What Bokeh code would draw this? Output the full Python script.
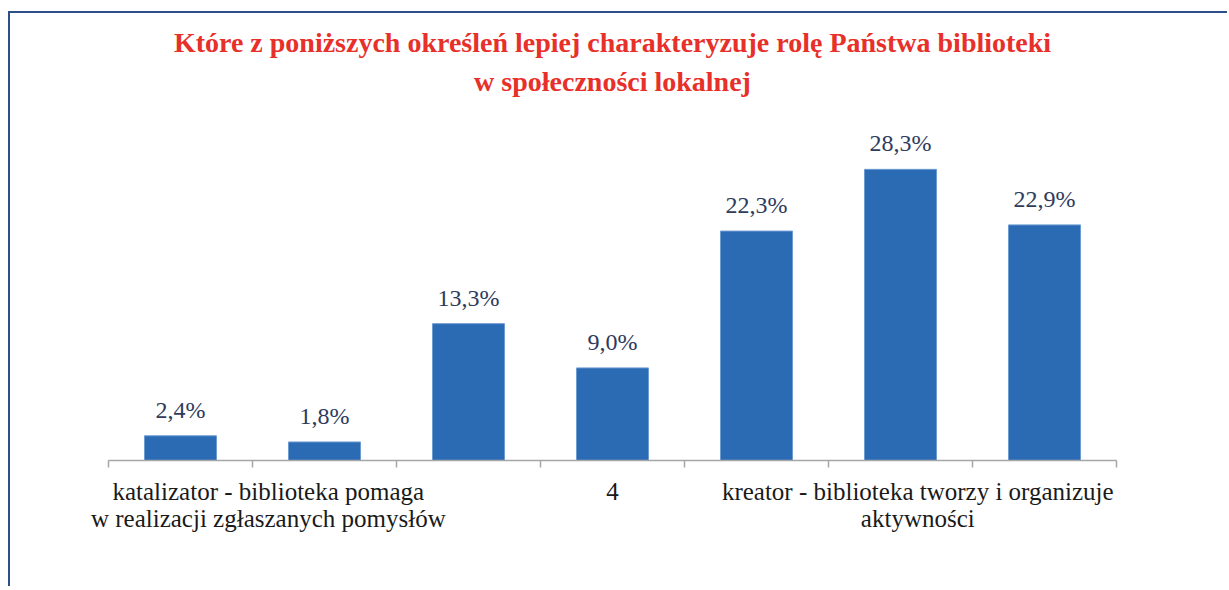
from bokeh.plotting import figure
from bokeh.models import Range1d, FixedTicker, Title, ColumnDataSource
from bokeh.embed import file_html
from bokeh.resources import INLINE
from bokeh.core.properties import value

# ---- data ----
categories = ["1", "2", "3", "4", "5", "6", "7"]
values = [2.4, 1.8, 13.3, 9.0, 22.3, 28.3, 22.9]
tick_labels = [
    "katalizator - biblioteka pomaga\nw realizacji zgłaszanych pomysłów",
    "4",
    "kreator - biblioteka tworzy i organizuje\naktywności",
]
title_lines = [
    "Które z poniższych określeń lepiej charakteryzuje rolę Państwa biblioteki",
    "w społeczności lokalnej",
]

# ---- layout / style (not data) ----
label_positions = [1.61, 4.0, 6.12]
FONT = "Liberation Serif"

xs = [i + 1 for i in range(len(categories))]
value_texts = [f"{v:.1f}%".replace(".", ",") for v in values]
src = ColumnDataSource(dict(x=xs, top=values, lab=value_texts))

p = figure(
    width=1219, height=575,
    x_range=Range1d(0.5, len(categories) + 0.5),
    y_range=Range1d(0, 34.7),
    output_backend="svg", toolbar_location=None,
    min_border_left=98, min_border_right=113,
    min_border_bottom=128, min_border_top=90,
)
p.styles = {"border-top": "2px solid #2c4f8a", "border-left": "2px solid #2c4f8a",
            "margin-top": "11px", "margin-left": "8px"}

p.add_layout(Title(text=title_lines[1], align="center", text_color="#e8302a",
                   text_font=FONT, text_font_size="28px", text_font_style="bold",
                   text_line_height=0.9, standoff=14, offset=7), "above")
p.add_layout(Title(text=title_lines[0], align="center", text_color="#e8302a",
                   text_font=FONT, text_font_size="28px", text_font_style="bold",
                   text_line_height=0.9, standoff=-3, offset=7), "above")

p.vbar(x="x", top="top", width=0.5, source=src,
       fill_color="#2a6bb4", line_color="#6c9ad3", line_width=1)
p.text(x="x", y="top", text="lab", source=src, y_offset=-13,
       text_align="center", text_baseline="bottom",
       text_font=value(FONT), text_font_size="24px", text_color="#2e3b5c")

p.yaxis.visible = False
p.grid.visible = False
p.outline_line_color = None
p.background_fill_color = "white"
p.border_fill_color = "white"

ax = p.xaxis[0]
ax.ticker = FixedTicker(ticks=label_positions,
                        minor_ticks=[x - 0.5 for x in xs] + [xs[-1] + 0.5])
ax.major_label_overrides = {pos: t for pos, t in zip(label_positions, tick_labels)}
ax.major_tick_out = 0
ax.major_tick_in = 0
ax.minor_tick_out = 7
ax.minor_tick_in = 0
ax.minor_tick_line_color = "#a6a6a6"
ax.minor_tick_line_width = 1.5
ax.axis_line_color = "#a6a6a6"
ax.axis_line_width = 1.5
ax.major_label_text_font = FONT
ax.major_label_text_font_size = "25px"
ax.major_label_text_line_height = 1.0
ax.major_label_text_color = "#1a1a1a"
ax.major_label_standoff = 10

open("out.html", "w").write(file_html(p, INLINE))
